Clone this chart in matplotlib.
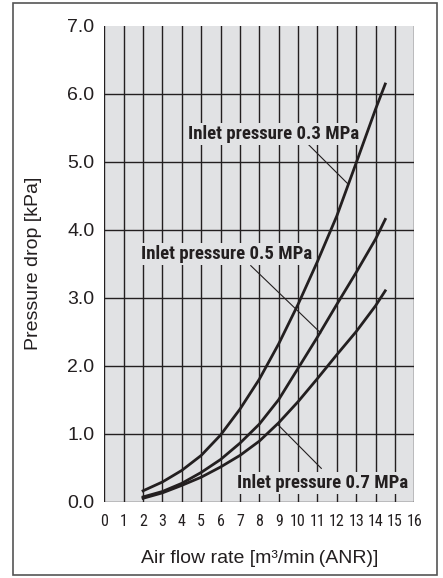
import matplotlib.pyplot as plt
from matplotlib.patches import Rectangle
from matplotlib import font_manager

# flow rate [m3/min (ANR)]
flow = [2, 3, 4, 5, 6, 7, 8, 9, 10, 11, 12, 13, 14, 14.5]
# pressure drop [kPa] for each inlet pressure
p03 = [0.16, 0.29, 0.46, 0.68, 0.98, 1.36, 1.80, 2.32, 2.90, 3.53, 4.20, 4.98, 5.77, 6.14]
p05 = [0.07, 0.15, 0.27, 0.43, 0.62, 0.86, 1.14, 1.50, 1.96, 2.42, 2.90, 3.37, 3.86, 4.15]
p07 = [0.05, 0.13, 0.24, 0.36, 0.51, 0.68, 0.89, 1.16, 1.47, 1.81, 2.16, 2.50, 2.88, 3.10]

xticks = list(range(0, 17))
yticks = [0, 1, 2, 3, 4, 5, 6, 7]

names = set(f.name for f in font_manager.fontManager.ttflist)
narrow = 'DejaVu Sans'
for cand in ['Liberation Sans Narrow', 'Roboto Condensed', 'Open Sans Condensed', 'Roboto']:
    if cand in names:
        narrow = cand
        break
regular = 'Liberation Sans'

ink = '#231f20'
bg = '#e1e2e4'

fig = plt.figure(figsize=(4.43, 5.78), dpi=100)
fig.patches.append(Rectangle((13 / 443, 3 / 578), 424 / 443, 572 / 578,
                             transform=fig.transFigure, fill=False,
                             edgecolor='#555555', linewidth=1.2))

ax = fig.add_axes([104.3 / 443, (578 - 501.7) / 578, 310 / 443, 476.2 / 578])
ax.set_facecolor(bg)
ax.set_xlim(0, 16)
ax.set_ylim(0, 7)

for x in xticks:
    ax.axvline(x, color=ink, lw=1.0, zorder=1)
for y in yticks[:-1]:
    ax.axhline(y, color=ink, lw=1.0, zorder=1)
for s in ax.spines.values():
    s.set_visible(False)

ax.plot(flow, p03, color=ink, lw=2.0, zorder=3)
ax.plot(flow, p05, color=ink, lw=2.0, zorder=3)
ax.plot(flow, p07, color=ink, lw=2.0, zorder=3)

ax.set_xticks(xticks)
ax.set_xticklabels([str(v) for v in xticks], family=narrow, fontsize=11.5, color=ink)
ax.set_yticks(yticks)
ax.set_yticklabels(['%.1f' % v for v in yticks], family=regular, fontsize=14, color=ink)
ax.tick_params(length=0)
ax.tick_params(axis='x', pad=9)
ax.tick_params(axis='y', pad=7)

ax.set_xlabel('Air flow rate [m³/min\u2009(ANR)]', family=regular, fontsize=14, color=ink, labelpad=15)
ax.set_ylabel('Pressure drop [kPa]', family=regular, fontsize=14, color=ink, labelpad=18)

box = dict(facecolor=bg, edgecolor='none', pad=1.5)
lab = dict(family=narrow, fontweight='bold', fontsize=13.5, color=ink, zorder=4, va='center')

ax.plot([10.5, 12.58], [5.26, 4.67], color=ink, lw=0.8, zorder=2)
ax.text(4.31, 5.41, 'Inlet pressure 0.3 MPa', ha='left', bbox=box, **lab)

ax.plot([7.56, 11.17], [3.47, 2.48], color=ink, lw=0.8, zorder=2)
ax.text(1.87, 3.64, 'Inlet pressure 0.5 MPa', ha='left', bbox=box, **lab)

ax.plot([11.2, 8.97], [0.49, 1.13], color=ink, lw=0.8, zorder=2)
ax.text(6.86, 0.27, 'Inlet pressure 0.7 MPa', ha='left', bbox=box, **lab)

fig.savefig('out.png', dpi=100)
